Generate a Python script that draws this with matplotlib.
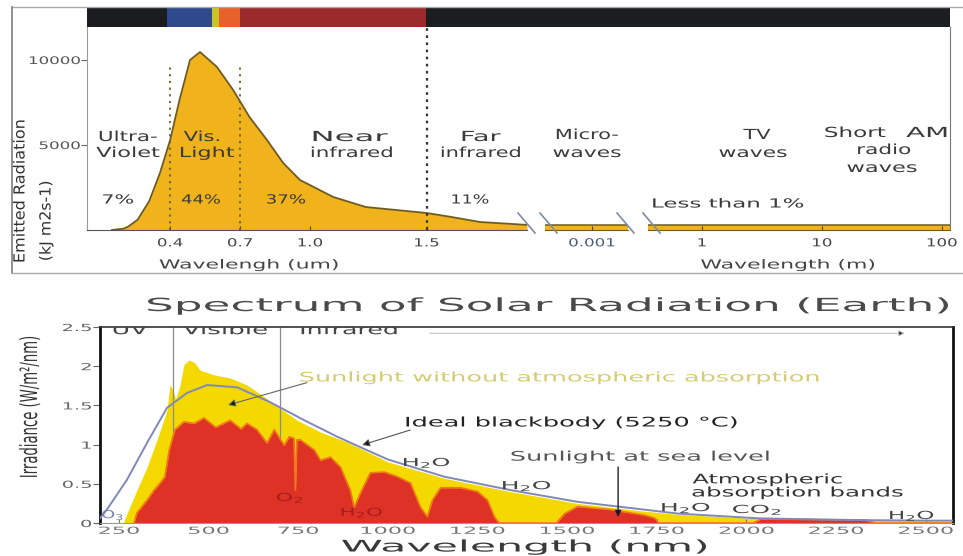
import numpy as np
import matplotlib
matplotlib.use("Agg")
import matplotlib.pyplot as plt
from matplotlib import patheffects
from matplotlib.lines import Line2D
from matplotlib.ticker import NullLocator
from matplotlib.transforms import Affine2D

W, H = 963, 556

# top panel: emitted radiation vs wavelength (um), then the long-wave strips
top_um = [0.15, 0.2, 0.22, 0.26, 0.31, 0.356, 0.4, 0.44, 0.485, 0.528, 0.6, 0.67,
          0.74, 0.815, 0.885, 0.957, 1.1, 1.24, 1.5, 1.6, 1.73, 1.931]
top_val = [0, 80, 200, 600, 1700, 3350, 5300, 7650, 10000, 10470, 9600, 8240,
           6650, 5300, 3940, 2940, 1940, 1350, 1000, 780, 470, 300]
micro_m = [3.4e-4, 2.3e-3]
micro_val = [300, 300]
radio_m = [0.355, 117]
radio_val = [300, 300]

band_start = [0.04, 0.386, 0.58, 0.61, 0.70, 1.50]
band_end = [0.386, 0.58, 0.61, 0.70, 1.50, 3.75]
band_colors = ["#1a1c1e", "#2f4a8c", "#c8c428", "#e8602a", "#9c2a2c", "#1a1e20"]

region_lines = [["Ultra-", "Violet"], ["Vis.", "Light"], ["Near", "infrared"],
                ["Far", "infrared"], ["Micro-", "waves"], ["TV", "waves"],
                ["Short", "radio", "waves"], ["AM"]]
region_share = ["7%", "44%", "37%", "11%", "Less than 1%"]

# bottom panel: solar spectrum (nm, W/m2/nm)
bb_nm = [190, 216, 272, 328, 384, 440, 496, 580, 672, 767, 859, 951, 1000, 1158,
         1342, 1529, 1716, 1809, 2032, 2250, 2500, 2576]
bb_val = [0.02, 0.17, 0.55, 1.02, 1.47, 1.66, 1.76, 1.73, 1.54, 1.31, 1.10, 0.91,
          0.81, 0.59, 0.42, 0.27, 0.17, 0.12, 0.06, 0.04, 0.03, 0.03]

space_nm = [264, 300, 328, 356, 384, 392, 400, 408, 420, 431, 445, 460, 476, 515,
            560, 607, 655, 700, 747, 812, 887, 951, 1000, 1158, 1342, 1529, 1716,
            1809, 2032, 2250, 2500, 2576]
space_val = [0.03, 0.42, 0.71, 1.06, 1.44, 1.76, 1.70, 1.58, 1.75, 2.02, 2.08, 2.05,
             1.95, 1.89, 1.85, 1.76, 1.61, 1.46, 1.31, 1.16, 1.03, 0.89, 0.78, 0.57,
             0.40, 0.25, 0.15, 0.11, 0.055, 0.035, 0.025, 0.02]

sea_nm = [292, 300, 328, 348, 365, 378, 390, 406, 431, 460, 487, 520, 560, 590, 607,
          635, 663, 683, 711, 725, 738, 742, 746, 756, 795, 812, 840, 868, 895, 906,
          923, 951, 990, 1027, 1063, 1091, 1110, 1124, 1147, 1203, 1250, 1278, 1297,
          1310, 1470, 1493, 1529, 1621, 1716, 1745, 1755, 1800, 2020, 2040, 2330,
          2360, 2576]
sea_val = [0.0, 0.13, 0.29, 0.42, 0.51, 0.59, 0.93, 1.19, 1.29, 1.27, 1.34, 1.22,
           1.31, 1.20, 1.27, 1.19, 1.02, 1.19, 0.99, 1.10, 1.08, 0.42, 1.06, 1.06,
           0.93, 0.80, 0.84, 0.71, 0.42, 0.20, 0.38, 0.64, 0.65, 0.59, 0.51, 0.20,
           0.08, 0.29, 0.45, 0.45, 0.40, 0.29, 0.08, 0.0, 0.0, 0.12, 0.21, 0.17, 0.10,
           0.06, 0.0, 0.0, 0.0, 0.05, 0.04, 0.0, 0.0]

nm_ticks = [250, 500, 750, 1000, 1250, 1500, 1750, 2000, 2250, 2500]
irr_ticks = [0, 0.5, 1, 1.5, 2, 2.5]
irr_labels = ["0", "0.5", "1", "1.5", "2", "2.5"]


class Wide(patheffects.AbstractPathEffect):
    """stretch glyphs along the baseline, the source image was resampled"""

    def __init__(self, sx=1.0, width=None, anchor="center"):
        super().__init__()
        self.sx, self.width, self.anchor = sx, width, anchor

    def draw_path(self, renderer, gc, tpath, affine, rgbFace=None):
        ext = tpath.get_extents()
        sx = self.sx
        if self.width is not None and ext.width > 0:
            m = affine.get_matrix()
            sx = self.width / (ext.width * np.hypot(m[0, 0], m[1, 0]))
        if self.anchor == "right":
            x0 = ext.x1
        elif self.anchor == "left":
            x0 = ext.x0
        else:
            x0 = (ext.x0 + ext.x1) / 2
        t = Affine2D().translate(-x0, 0).scale(sx, 1).translate(x0, 0) + affine
        renderer.draw_path(gc, tpath, t, rgbFace)


def box(l, t, r, b):
    return [l / W, 1 - b / H, (r - l) / W, (b - t) / H]


fig = plt.figure(figsize=(W / 100, H / 100), dpi=100)


def ftext(x, y, s, size, width, color="#333333", rot=0, **kw):
    fig.text(x / W, 1 - y / H, s, fontsize=size, color=color, ha="center",
             va="center", rotation=rot, path_effects=[Wide(width=width)], **kw)


def fline(xs, ys, color, lw=1.0):
    fig.add_artist(Line2D([x / W for x in xs], [1 - y / H for y in ys],
                          transform=fig.transFigure, color=color, lw=lw))


# ---------------- top panel ----------------
fill_top = "#f0b31c"
edge_top = "#6e5c1e"

band = fig.add_axes(box(87, 8, 950, 27))
band.broken_barh(list(zip(band_start, np.subtract(band_end, band_start))), (0, 1),
                 facecolors=band_colors)
band.set_xlim(0.043, 3.747)
band.set_ylim(0, 1)
band.axis("off")

ax1 = fig.add_axes(box(87, 27, 527, 230))
ax1.fill_between(top_um, top_val, color=fill_top, lw=0, zorder=1)
ax1.plot(top_um, top_val, color=edge_top, lw=1.3, zorder=2)
ax1.vlines([0.4, 0.7], 0, 9700, colors="#6e5c1e", linestyles=(0, (1.2, 2.5)), lw=1.3, zorder=3)
ax1.axvline(1.5, color="#333333", ls=(0, (1.2, 2)), lw=1.6, zorder=3)
ax1.set_xlim(0.043, 1.931)
ax1.set_ylim(0, 11941)
for s in ["top", "right"]:
    ax1.spines[s].set_visible(False)
ax1.spines["left"].set_color("#999999")
ax1.spines["bottom"].set_color("#555555")
ax1.set_xticks([0.4, 0.7, 1.0, 1.5], ["0.4", "0.7", "1.0", "1.5"])
ax1.set_yticks([5000, 10000], ["5000", "10000"])
ax1.tick_params(axis="x", direction="in", length=3, pad=6, labelsize=8, colors="#444444")
ax1.tick_params(axis="y", direction="out", length=4, pad=1, labelsize=7.5,
                colors="#666666", labelcolor="#555555")
for lab in ax1.get_xticklabels():
    lab.set_path_effects([Wide(1.5)])
for lab in ax1.get_yticklabels():
    lab.set_path_effects([Wide(1.6, anchor="right")])

for ax, xs, ys, lim, ticks, labels, col in [
        (fig.add_axes(box(545, 27, 628, 230)), micro_m, micro_val, (3.4e-4, 2.3e-3),
         [0.001], ["0.001"], "#4a5a7a"),
        (fig.add_axes(box(648, 27, 950, 230)), radio_m, radio_val, (0.355, 117),
         [1, 10, 100], ["1", "10", "100"], "#444444")]:
    ax.fill_between(xs, ys, color=fill_top, lw=0)
    ax.plot(xs, ys, color=edge_top, lw=1.1)
    ax.set_xscale("log")
    ax.set_xlim(*lim)
    ax.set_ylim(0, 11941)
    ax.xaxis.set_minor_locator(NullLocator())
    ax.set_yticks([])
    ax.set_xticks(ticks, labels)
    ax.tick_params(axis="x", direction="in", length=3, pad=6, labelsize=8,
                   colors="#444444", labelcolor=col)
    for lab in ax.get_xticklabels():
        lab.set_path_effects([Wide(1.5)])
    for s in ["top", "right", "left"]:
        ax.spines[s].set_visible(False)
    ax.spines["bottom"].set_color(edge_top)
    ax3 = ax
ax3.spines["right"].set_visible(True)
ax3.spines["right"].set_color("#777777")

# axis breaks
for x0 in [518, 540, 617, 643]:
    fline([x0, x0 + 17], [213, 233], "#7f8aa5", 1.2)

# outer frame of the top figure
fline([12, 963], [7, 7], "#aaaaaa")
fline([12, 12], [7, 273], "#888888", 1.3)
fline([12, 963], [273, 273], "#aaaaaa")

# region names and shares
name_pos = [[(128, 137, 57), (128, 153, 63)], [(202, 137, 35), (207, 153, 53)],
            [(350, 137, 74), (352, 153, 80)], [(481, 137, 38), (481, 153, 78)],
            [(587, 135, 61), (587, 153, 67)], [(757, 135, 27), (753, 153, 67)],
            [(855, 133, 60), (884, 150, 52), (882, 168, 69)], [(927, 133, 40)]]
for lines, pos in zip(region_lines, name_pos):
    for s, (x, y, w) in zip(lines, pos):
        ftext(x, y, s, 10, w, color="#3a3a3a")
share_pos = [(118, 200, 30), (201, 200, 38), (286, 200, 38), (470, 200, 36), (728, 204, 150)]
for s, (x, y, w) in zip(region_share, share_pos):
    ftext(x, y, s, 9, w, color="#3a3a3a")

ftext(249, 265, "Wavelengh (um)", 9, 178, color="#444444")
ftext(788, 265, "Wavelength (m)", 9, 173, color="#444444")
ftext(20, 191, "Emitted Radiation", 11, 141, color="#333333", rot=90)
ftext(46, 221, "(kJ m2s-1)", 11, 78, color="#333333", rot=90)

# ---------------- bottom panel ----------------
yellow = "#f3d900"
red = "#de3226"
orange = "#f07818"

axb = fig.add_axes(box(100, 327, 953, 523))
axb.fill_between(space_nm, space_val, color=yellow, lw=0, zorder=1)
axb.vlines([400, 700], 0, 2.5, colors="#8c8c8c", lw=0.9, zorder=1.5)
axb.fill_between(sea_nm, sea_val, color=red, lw=0, zorder=2)
axb.plot(sea_nm, sea_val, color=orange, lw=1.2, zorder=2.2)
axb.plot(bb_nm, bb_val, color="#8088b8", lw=1.4, zorder=3)
axb.set_xlim(197, 2576)
axb.set_ylim(0, 2.5)
axb.spines["left"].set_linewidth(2)
axb.spines["left"].set_color("#111111")
axb.spines["right"].set_linewidth(2)
axb.spines["right"].set_color("#111111")
axb.spines["top"].set_color("#333333")
axb.spines["top"].set_linewidth(1.2)
axb.spines["bottom"].set_color("#999999")
axb.set_xticks(nm_ticks, [str(v) for v in nm_ticks])
axb.set_yticks(irr_ticks, irr_labels)
axb.tick_params(axis="x", direction="in", length=3, pad=2, labelsize=7, colors="#777777")
axb.tick_params(axis="y", direction="out", length=5, pad=1, labelsize=7,
                colors="#666666", labelcolor="#666666")
for lab in axb.get_xticklabels():
    lab.set_path_effects([Wide(2.3)])
for lab in axb.get_yticklabels():
    lab.set_path_effects([Wide(2.0, anchor="right")])


def btext(x, y, s, size, width, color="#333333", clip=False):
    axb.text(x, y, s, fontsize=size, color=color, ha="center", va="center",
             path_effects=[Wide(width=width)], clip_on=clip, zorder=5)


# band names, cut by the top of the frame
btext(281, 2.46, "UV", 10, 34, "#444444", clip=True)
btext(546, 2.46, "Visible", 10, 84, "#444444", clip=True)
btext(892, 2.46, "Infrared", 10, 95, "#444444", clip=True)
axb.annotate("", xy=(2442, 2.42), xytext=(1117, 2.42),
             arrowprops=dict(arrowstyle="-|>", ec="#c4c4c4", fc="#111111", lw=0.8,
                             mutation_scale=9, shrinkA=0, shrinkB=0))

btext(1483, 1.85, "Sunlight without atmospheric absorption", 9.5, 518, "#d6cc72")
axb.annotate("", xy=(554, 1.505), xytext=(774, 1.79),
             arrowprops=dict(arrowstyle="-|>", ec="#666666", fc="#111111", lw=0.8,
                             mutation_scale=11, shrinkA=0, shrinkB=0), zorder=5)
btext(1514, 1.276, "Ideal blackbody (5250 °C)", 9.5, 330, "#222222")
axb.annotate("", xy=(928, 0.995), xytext=(1062, 1.186),
             arrowprops=dict(arrowstyle="-|>", ec="#555555", fc="#111111", lw=0.8,
                             mutation_scale=11, shrinkA=0, shrinkB=0), zorder=5)
btext(1706, 0.84, "Sunlight at sea level", 9.5, 257, "#555555")
axb.annotate("", xy=(1642, 0.077), xytext=(1642, 0.714),
             arrowprops=dict(arrowstyle="-|>", ec="#222222", fc="#111111", lw=1.0,
                             mutation_scale=9, shrinkA=0, shrinkB=0), zorder=5)
btext(2060, 0.55, "Atmospheric", 9.5, 149, "#333333")
btext(2144, 0.383, "absorption bands", 9.5, 210, "#333333")

for x, y, s, w in [(1109, 0.765, "H$_2$O", 45), (1388, 0.47, "H$_2$O", 47),
                   (1832, 0.19, "H$_2$O", 47), (2030, 0.166, "CO$_2$", 47),
                   (2462, 0.09, "H$_2$O", 43)]:
    btext(x, y, s, 8, w, "#444444")
btext(727, 0.32, "O$_2$", 8, 25, "#a41e1e")
btext(928, 0.13, "H$_2$O", 8, 40, "#a41e1e")
btext(233, 0.10, "O$_3$", 8, 20, "#7080b0")

ftext(548, 306, "Spectrum of Solar Radiation (Earth)", 13, 800, color="#4a4a4a")
ftext(525, 547, "Wavelength (nm)", 11.5, 364, color="#3a3a3a")
ftext(30, 407, "Irradiance (W/m²/nm)", 17, 140, color="#333333", rot=90)

fig.savefig("out.png", dpi=100)
